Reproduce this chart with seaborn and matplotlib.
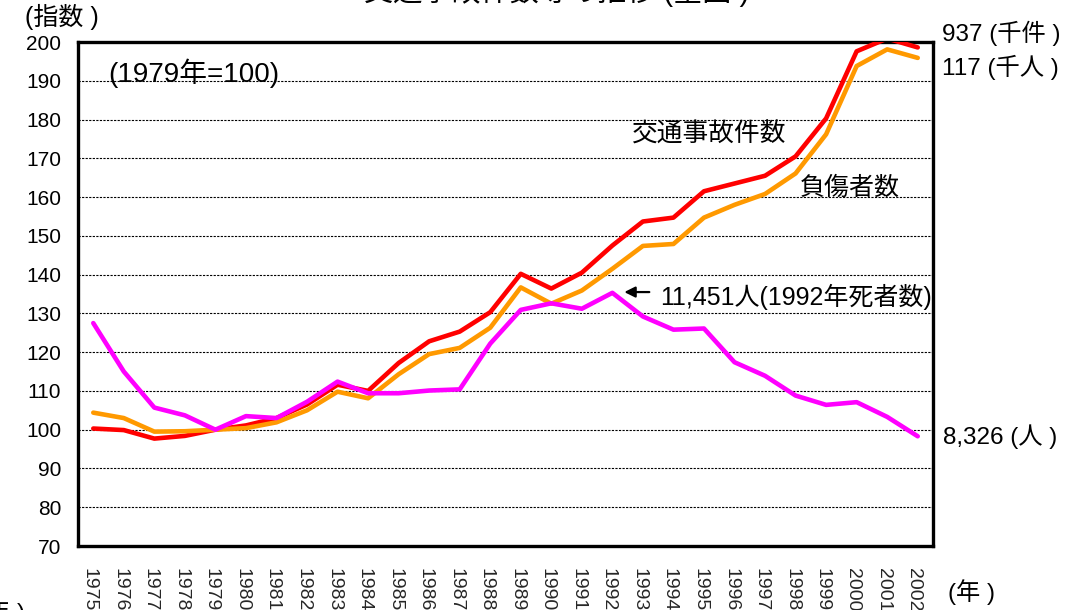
import matplotlib
matplotlib.use("Agg")
import matplotlib.pyplot as plt
import matplotlib.transforms as mtransforms
import seaborn as sns
import pandas as pd

years = list(range(1975, 2003))
accidents = [100.3, 99.9, 97.7, 98.4, 100.0, 101.1, 103.0, 106.5, 111.6, 110.0,
             117.2, 122.8, 125.3, 130.3, 140.2, 136.4, 140.5, 147.5, 153.7, 154.7,
             161.5, 163.5, 165.5, 170.5, 180.3, 197.6, 200.9, 198.6]
injured = [104.4, 103.0, 99.5, 99.6, 100.0, 100.4, 101.9, 105.0, 109.8, 108.1,
           114.3, 119.5, 121.1, 126.3, 136.7, 132.5, 135.9, 141.5, 147.4, 147.9,
           154.7, 158.0, 160.8, 166.1, 176.2, 193.8, 198.1, 195.9]
deaths = [127.5, 115.0, 105.7, 103.7, 100.0, 103.5, 103.0, 107.2, 112.4, 109.4,
          109.4, 110.1, 110.4, 122.2, 130.9, 132.6, 131.2, 135.3, 129.2, 125.8,
          126.1, 117.4, 113.9, 108.8, 106.4, 107.1, 103.3, 98.3]
series_names = ["交通事故件数", "負傷者数", "死者数"]
series_colors = ["#FF0000", "#FF9900", "#FF00FF"]
y_ticks = list(range(70, 201, 10))

sns.set_style("white")
plt.rcParams["font.family"] = ["Liberation Sans", "Noto Sans CJK JP"]

df = pd.DataFrame({
    "year": years * 3,
    "value": accidents + injured + deaths,
    "series": [series_names[0]] * len(years) + [series_names[1]] * len(years) + [series_names[2]] * len(years),
})

fig = plt.figure(figsize=(10.82, 6.10), dpi=100)
ax = fig.add_axes([78 / 1082, 1 - 546 / 610, (933 - 78) / 1082, (546 - 42) / 610])

sns.lineplot(data=df, x="year", y="value", hue="series", hue_order=series_names,
             palette=series_colors, linewidth=3.3, ax=ax, legend=False, zorder=3)

ax.set_xlim(1974.5, 2002.5)
ax.set_ylim(70, 200)
ax.set_xlabel("")
ax.set_ylabel("")

ax.set_yticks(y_ticks)
ax.set_yticklabels([str(v) for v in y_ticks], fontsize=15)
ax.tick_params(axis="y", direction="in", length=6, width=1.2, pad=12, colors="black")

ax.set_xticks(years)
ax.set_xticklabels([str(y) for y in years], rotation=270, fontsize=14, va="top", ha="center")
ax.set_xticks([y + 0.5 for y in years[:-1]], minor=True)
ax.tick_params(axis="x", which="major", length=0, pad=16)
ax.tick_params(axis="x", which="minor", direction="in", length=6, width=1.2)
offset = mtransforms.ScaledTranslation(-4 / 100, 0, fig.dpi_scale_trans)
for lab in ax.get_xticklabels():
    lab.set_transform(lab.get_transform() + offset)

ax.yaxis.grid(True, color="black", linestyle=(0, (2, 1.2)), linewidth=0.8)
ax.xaxis.grid(False)
ax.set_axisbelow(True)
for sp in ax.spines.values():
    sp.set_visible(True)
    sp.set_color("black")
    sp.set_linewidth(2.4)

def ftext(x, y, s, size, **kw):
    fig.text(x / 1082, 1 - y / 610, s, fontsize=size, color="black", **kw)

ftext(557, -8, "交通事故件数等の推移 (全国 )", 21, ha="center", va="center")
ftext(25, 17, "(指数 )", 18, ha="left", va="center")
ftext(108, 73, "(1979年=100)", 20, ha="left", va="center")
ftext(632, 135, "交通事故件数", 18.5, ha="left", va="center")
ftext(800, 188, "負傷者数", 18, ha="left", va="center")
ftext(660, 297, "11,451人(1992年死者数)", 18, ha="left", va="center")
ftext(942, 33, "937 (千件 )", 17.5, ha="left", va="center")
ftext(942, 67, "117 (千人 )", 17.5, ha="left", va="center")
ftext(943, 437, "8,326 (人 )", 17.5, ha="left", va="center")
ftext(948, 592, "(年 )", 17.5, ha="left", va="center")
ftext(25, 612, "(年 )", 17.5, ha="right", va="center")

ax.annotate("", xy=(1992.3, 135.5), xytext=(1993.3, 135.5),
            arrowprops=dict(arrowstyle="-|>", color="black", lw=1.6, mutation_scale=16))

fig.savefig("out.png", dpi=100)
